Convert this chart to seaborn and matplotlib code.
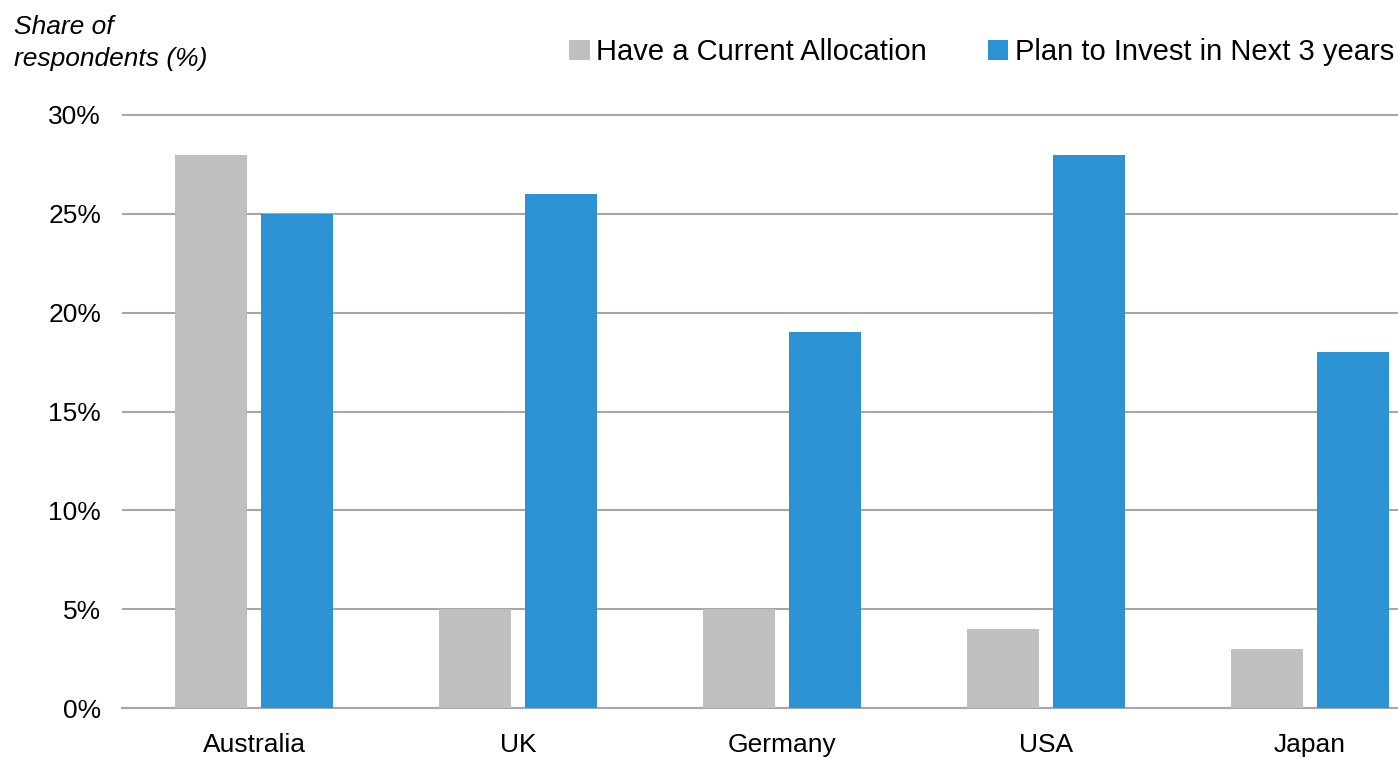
import pandas as pd
import seaborn as sns
import matplotlib.pyplot as plt
from matplotlib.patches import Patch
from matplotlib.ticker import FixedLocator, FuncFormatter

countries = ["Australia", "UK", "Germany", "USA", "Japan"]
current_allocation = [28, 5, 5, 4, 3]
plan_to_invest = [25, 26, 19, 28, 18]
series_names = ["Have a Current Allocation", "Plan to Invest in Next 3 years"]
y_ticks = [0, 5, 10, 15, 20, 25, 30]

colors = ["#bfbfbf", "#2b92d4"]
grid_color = "#a6a6a6"

df = pd.DataFrame({
    "country": countries * 2,
    "series": [series_names[0]] * len(countries) + [series_names[1]] * len(countries),
    "value": current_allocation + plan_to_invest,
})

sns.set_style("white")
plt.rcParams["font.family"] = ["Liberation Sans", "DejaVu Sans"]
plt.rcParams["text.color"] = "black"
plt.rcParams["xtick.labelcolor"] = "black"
plt.rcParams["ytick.labelcolor"] = "black"

W, H = 1398, 758
fig = plt.figure(figsize=(W / 100, H / 100), dpi=100)

# axes box in pixels: left 122, right 1442 (beyond the image edge), y=0 at 708, 1% = 19.77px
px = 593 / 30
top = 708 - 31 * px
ax = fig.add_axes([122 / W, (H - 708) / H, (1442 - 122) / W, (708 - top) / H])

sns.barplot(data=df, x="country", y="value", hue="series", palette=colors,
            width=0.652, gap=0.174, saturation=1, linewidth=0, legend=False, ax=ax, zorder=3)

ax.set_xlim(-0.5, 4.5)
ax.set_ylim(0, 31)
ax.yaxis.set_major_locator(FixedLocator(y_ticks))
ax.yaxis.set_major_formatter(FuncFormatter(lambda v, p: f"{v:.0f}%"))
ax.grid(axis="y", color=grid_color, linewidth=1.5, zorder=0)
ax.set_axisbelow(True)

for s in ["top", "right", "left"]:
    ax.spines[s].set_visible(False)
ax.spines["bottom"].set_color(grid_color)
ax.spines["bottom"].set_linewidth(1.5)

ax.set_xticks(range(len(countries)))
ax.set_xticks([i - 0.5 for i in range(len(countries) + 1)], minor=True)
ax.tick_params(axis="x", which="major", length=0, pad=18, labelsize=19)
ax.tick_params(axis="x", which="minor", length=7, width=1.5, color=grid_color, direction="out")
ax.tick_params(axis="y", length=0, pad=15, labelsize=19)
ax.set_xlabel("")
ax.set_ylabel("")

fig.text(14 / W, 1 - 15 / H, "Share of\nrespondents (%)", style="italic",
         fontsize=19, ha="left", va="top", linespacing=1.42)

handles = [Patch(facecolor=c, edgecolor="none") for c in colors]
fig.legend(handles, series_names, loc="center right", bbox_to_anchor=(1394 / W, 1 - 52 / H),
           ncol=2, frameon=False, fontsize=21, handlelength=0.7, handleheight=0.7,
           handletextpad=0.22, columnspacing=2.1, borderpad=0, borderaxespad=0)

fig.savefig("out.png", dpi=100)
